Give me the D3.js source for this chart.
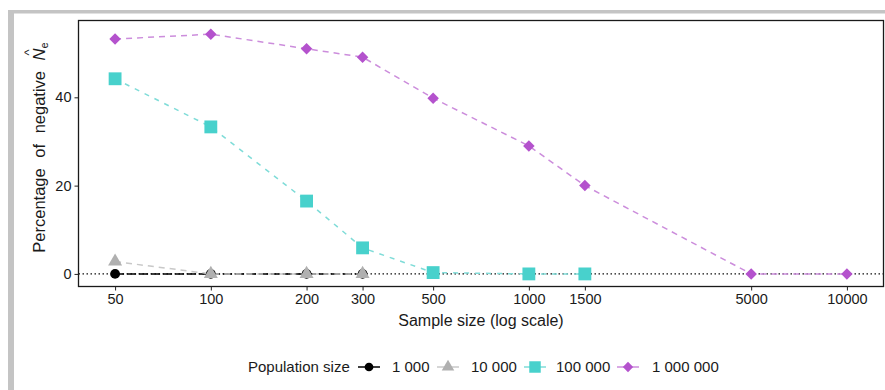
<!DOCTYPE html>
<html><head><meta charset="utf-8">
<script src="https://cdn.jsdelivr.net/npm/d3@7/dist/d3.min.js"></script>
<style>html,body{margin:0;padding:0;background:#fff;} svg{display:block;font-family:"Liberation Sans",Arial,sans-serif;}</style>
</head><body>
<script>
// ---- data ----
const sampleTicks = [50, 100, 200, 300, 500, 1000, 1500, 5000, 10000];
const yTicks = [0, 20, 40];
const seriesNames = ["1 000", "10 000", "100 000", "1 000 000"];
const sizes1k   = [50, 100, 200, 300];
const pct1k     = [0, 0, 0, 0];
const sizes10k  = [50, 100, 200, 300];
const pct10k    = [2.8, 0, 0, 0];
const sizes100k = [50, 100, 200, 300, 500, 1000, 1500];
const pct100k   = [44.2, 33.3, 16.5, 5.9, 0.3, 0, 0];
const sizes1m   = [50, 100, 200, 300, 500, 1000, 1500, 5000, 10000];
const pct1m     = [53.2, 54.3, 51.0, 49.1, 39.8, 29.0, 20.0, 0, 0];

const W = 885, H = 390;
const svg = d3.select("body").append("svg").attr("width", W).attr("height", H);

// outer frame (grey bars)
svg.append("rect").attr("x", 8).attr("y", 10).attr("width", W - 8).attr("height", 3.5).attr("fill", "#c4c4c4");
svg.append("rect").attr("x", 8).attr("y", 10).attr("width", 6).attr("height", H - 10).attr("fill", "#c4c4c4");

const pl = 78.5, pr = 883.5, pt = 20.5, pb = 286.5;
const lo = Math.log10(50), hi = Math.log10(10000), sp = hi - lo;
const x = d3.scaleLog().domain([Math.pow(10, lo - 0.05 * sp), Math.pow(10, hi + 0.05 * sp)]).range([pl, pr]);
const y = d3.scaleLinear().domain([-2.85, 57.4]).range([pb, pt]);

// zero reference line
svg.append("line").attr("x1", pl).attr("x2", pr).attr("y1", y(0)).attr("y2", y(0))
  .attr("stroke", "#111").attr("stroke-width", 1.3).attr("stroke-dasharray", "1.5,2.5");

const series = [
  {name: seriesNames[0], xs: sizes1k, ys: pct1k, color: "#000000", line: "#000000", dash: "9,3", shape: d3.symbolCircle, size: 75, rot: 0},
  {name: seriesNames[1], xs: sizes10k, ys: pct10k, color: "#b0b0b0", line: "#c8c8c8", dash: "6,5", shape: d3.symbolTriangle, size: 85, rot: 0},
  {name: seriesNames[2], xs: sizes100k, ys: pct100k, color: "#48d1cc", line: "#7fdcd8", dash: "5,6", shape: d3.symbolSquare, size: 165, rot: 0},
  {name: seriesNames[3], xs: sizes1m, ys: pct1m, color: "#b452cd", line: "#cc8ddc", dash: "6,5", shape: d3.symbolSquare, size: 66, rot: 45},
];

const lineGen = d3.line().x(d => x(d[0])).y(d => y(d[1]));
series.forEach(s => {
  const pts = s.xs.map((v, i) => [v, s.ys[i]]);
  svg.append("path").attr("d", lineGen(pts)).attr("fill", "none")
    .attr("stroke", s.line).attr("stroke-width", 1.5).attr("stroke-dasharray", s.dash);
});
series.forEach(s => {
  const pts = s.xs.map((v, i) => [v, s.ys[i]]);
  svg.selectAll(null).data(pts).enter().append("path")
    .attr("d", d3.symbol().type(s.shape).size(s.size))
    .attr("transform", d => `translate(${x(d[0])},${y(d[1])}) rotate(${s.rot})`)
    .attr("fill", s.color);
});

// panel border
svg.append("rect").attr("x", pl).attr("y", pt).attr("width", pr - pl).attr("height", pb - pt)
  .attr("fill", "none").attr("stroke", "#1a1a1a").attr("stroke-width", 1.3);

// axes
const xAxis = svg.append("g").attr("transform", `translate(0,${pb})`)
  .call(d3.axisBottom(x).tickValues(sampleTicks).tickFormat(d3.format("d")).tickSize(4).tickPadding(3));
const yAxis = svg.append("g").attr("transform", `translate(${pl},0)`)
  .call(d3.axisLeft(y).tickValues(yTicks).tickSize(4).tickPadding(3));
[xAxis, yAxis].forEach(g => {
  g.select(".domain").remove();
  g.selectAll(".tick line").attr("stroke", "#222").attr("stroke-width", 1);
  g.selectAll("text").attr("fill", "#1a1a1a").style("font-size", "14.5px").style("font-family", "Liberation Sans, Arial, sans-serif");
});

// axis titles
svg.append("text").attr("x", (pl + pr) / 2).attr("y", 326).attr("text-anchor", "middle")
  .style("font-size", "16px").attr("fill", "#1a1a1a").text("Sample size (log scale)");

const yt = svg.append("g").attr("transform", `translate(45,${(pt + pb) / 2 - 6}) rotate(-90)`);
const ytext = yt.append("text").attr("text-anchor", "middle").style("font-size", "16.5px").attr("fill", "#1a1a1a")
  .attr("word-spacing", "6px");
ytext.append("tspan").text("Percentage of negative ");
ytext.append("tspan").style("font-style", "italic").text("N");
ytext.append("tspan").attr("dy", 3).style("font-size", "11px").text("e");
// hat over N
const nIdx = "Percentage of negative ".length;
const p0 = ytext.node().getStartPositionOfChar(nIdx);
const p1 = ytext.node().getEndPositionOfChar(nIdx);
yt.append("text").attr("x", (p0.x + p1.x) / 2 + 2).attr("y", -12).attr("text-anchor", "middle")
  .style("font-size", "13px").attr("fill", "#1a1a1a").text("^");

// legend
const lg = svg.append("g");
const ly = 367;
lg.append("text").attr("x", 248).attr("y", ly + 5).style("font-size", "15px").attr("fill", "#1a1a1a").text("Population size");
const keyX = [369, 448, 535, 628];
const labX = [392, 471, 556, 652];
series.forEach((s, i) => {
  lg.append("line").attr("x1", keyX[i] - 11).attr("x2", keyX[i] + 11).attr("y1", ly).attr("y2", ly)
    .attr("stroke", s.line).attr("stroke-width", 1.5);
  lg.append("path").attr("d", d3.symbol().type(s.shape).size(s.size * 0.8))
    .attr("transform", `translate(${keyX[i]},${ly}) rotate(${s.rot})`).attr("fill", s.color);
  lg.append("text").attr("x", labX[i]).attr("y", ly + 5).style("font-size", "15px").attr("fill", "#1a1a1a").text(s.name);
});
</script>
</body></html>
